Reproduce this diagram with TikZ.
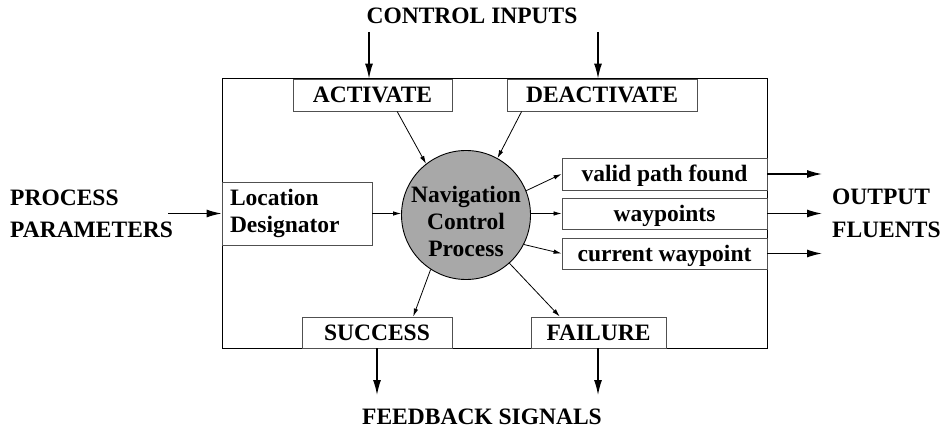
\documentclass[tikz,border=0pt]{standalone}
\usepackage{fontspec}
\setmainfont{Liberation Serif}
\usetikzlibrary{arrows.meta,calc}
\definecolor{circgray}{RGB}{168,168,168}
\definecolor{boxedge}{RGB}{80,80,80}
\tikzset{
  lbl/.style={font=\fontsize{23.5}{27}\selectfont\bfseries, inner sep=0pt},
  boxbase/.style={draw=boxedge, line width=0.9pt, fill=white, rectangle, inner sep=0pt,
    font=\fontsize{23.5}{27}\selectfont\bfseries},
  sbox/.style={boxbase, text height=16pt, text depth=0pt},
  mainbox/.style={draw=black, line width=1pt, rectangle, inner sep=0pt},
  bigarr/.style={line width=1.3pt, -{Latex[length=15pt,width=8pt]}},
  smallarr/.style={line width=0.8pt, -{Latex[length=8pt,width=4.5pt]}},
}
\begin{document}
\begin{tikzpicture}[x=1pt,y=-1pt]
\useasboundingbox (0,0) rectangle (952,430);

% main frame
\node[mainbox, minimum width=545pt, minimum height=269pt] (main) at (494.5,213.5) {};

% inner boxes
\node[sbox, minimum width=159pt, minimum height=32pt] (act) at (372.5,95) {ACTIVATE};
\node[sbox, minimum width=190pt, minimum height=32pt] (deact) at (602,95) {DEACTIVATE};
\node[boxbase, minimum width=150pt, minimum height=63pt, text width=134pt, inner xsep=8pt, align=left] (loc) at (297,213.5) {Location\\Designator};
\node[sbox, minimum width=205pt, minimum height=32pt] (vp) at (664.5,174) {valid path found};
\node[sbox, minimum width=205pt, minimum height=31pt] (wp) at (664.5,213.5) {waypoints};
\node[sbox, minimum width=205pt, minimum height=31pt] (cur) at (664.5,253.5) {current waypoint};
\node[sbox, minimum width=150pt, minimum height=31pt] (succ) at (377,332.5) {SUCCESS};
\node[sbox, minimum width=135pt, minimum height=31pt] (fail) at (598.5,332.5) {FAILURE};

% central process
\node[circle, draw=black, line width=0.9pt, fill=circgray, minimum size=129pt, inner sep=0pt] (circ) at (466,215) {};
\node[lbl, align=center] (circtxt) at (466,221) {Navigation\\Control\\Process};

% outer labels
\node[lbl, anchor=base] (ctrl) at (472,24) {CONTROL INPUTS};
\node[lbl, anchor=base] (feed) at (482,424) {FEEDBACK SIGNALS};
\node[lbl, font=\fontsize{23.5}{32}\selectfont\bfseries, align=left, anchor=west] (ppar) at (10,214) {PROCESS\\PARAMETERS};
\node[lbl, font=\fontsize{23.5}{33}\selectfont\bfseries, align=left, anchor=west] (outf) at (832,213.5) {OUTPUT\\FLUENTS};

% free ends
\coordinate (ci1) at (369,32);
\coordinate (ci2) at (598,32);
\coordinate (fb1) at (377,395);
\coordinate (fb2) at (598,395);
\coordinate (pp) at (168,213.5);
\coordinate (of1) at (822,174);
\coordinate (of2) at (822,213.5);
\coordinate (of3) at (822,253.5);

% outer arrows
\draw[bigarr] (ci1) -- (ci1 |- act.north);
\draw[bigarr] (ci2) -- (ci2 |- deact.north);
\draw[bigarr] (fb1 |- succ.south) -- (fb1);
\draw[bigarr] (fb2 |- fail.south) -- (fb2);
\draw[bigarr] (pp) -- (loc.west);
\draw[bigarr] (vp.east) -- (of1);
\draw[bigarr] (wp.east) -- (of2);
\draw[bigarr] (cur.east) -- (of3);

% inner arrows
\draw[smallarr] ($(act.south west)!0.654!(act.south east)$) -- (circ.128.3);
\draw[smallarr] ($(deact.south west)!0.079!(deact.south east)$) -- (circ.61.1);
\draw[smallarr] (loc.east) -- (loc.east -| circ.west);
\draw[smallarr] (circ.22) -- (vp.west);
\draw[smallarr] (circ.east |- wp.west) -- (wp.west);
\draw[smallarr] (circ.-27) -- (cur.west);
\draw[smallarr] (circ.-123) -- ($(succ.north west)!0.74!(succ.north east)$);
\draw[smallarr] (circ.-48) -- ($(fail.north west)!0.215!(fail.north east)$);
\end{tikzpicture}
\end{document}
